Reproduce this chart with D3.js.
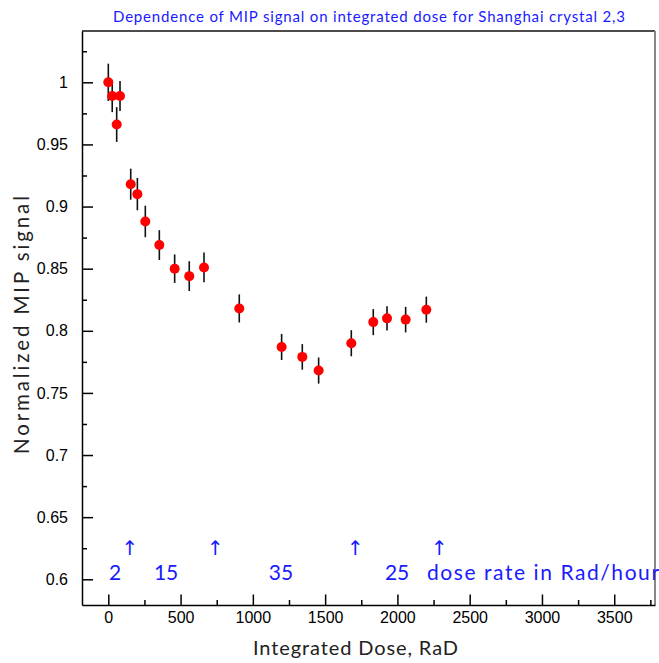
<!DOCTYPE html>
<html>
<head>
<meta charset="utf-8">
<script src="https://cdn.jsdelivr.net/npm/d3@7"></script>
<style>
  html, body { margin: 0; padding: 0; background: #fff; }
  svg { display: block; }
</style>
</head>
<body>
<svg id="chart" width="659" height="663"></svg>
<script>
// ---- data ----
const dose   = [0, 27, 81, 58, 155, 201, 256, 353, 459, 560, 662, 906, 1199, 1342, 1455, 1681, 1833, 1928, 2057, 2200];
const signal = [1.000, 0.989, 0.989, 0.966, 0.918, 0.910, 0.888, 0.869, 0.850, 0.844, 0.851, 0.818, 0.787, 0.779, 0.768, 0.790, 0.807, 0.810, 0.809, 0.817];
const errors = [0.015, 0.013, 0.012, 0.014, 0.0125, 0.013, 0.0127, 0.012, 0.0115, 0.012, 0.012, 0.0113, 0.0105, 0.0103, 0.0105, 0.0105, 0.0105, 0.0098, 0.0103, 0.0105];

const xMajorTicks = [0, 500, 1000, 1500, 2000, 2500, 3000, 3500];
const xMinorTicks = [250, 750, 1250, 1750, 2250, 2750, 3250, 3750];
const yMajorTicks = [0.6, 0.65, 0.7, 0.75, 0.8, 0.85, 0.9, 0.95, 1.0];
const yMinorTicks = [0.625, 0.675, 0.725, 0.775, 0.825, 0.875, 0.925, 0.975, 1.025];

const arrowDose  = [150, 740, 1710, 2290];
const rateLabels = ["2", "15", "35", "25"];
const rateDose   = [47, 400, 1195, 1998];
const rateNote   = "dose rate in Rad/hour";
const rateNoteDose = 2205;

const titleText = "Dependence of MIP signal on integrated dose for Shanghai crystal 2,3";
const xTitle = "Integrated Dose, RaD";
const yTitle = "Normalized MIP signal";

// ---- layout ----
const svg = d3.select("#chart");
const L = 82, R = 655, T = 31, B = 605;
const x = d3.scaleLinear().domain([-182, 3782]).range([L, R]);
const y = d3.scaleLinear().domain([0.5793, 1.0413]).range([B, T]);

const blue = "#1a1aff";
const labelFont = "'Liberation Sans', Arial, sans-serif";
const textFont = "Lato, 'Open Sans', sans-serif";

// frame
svg.append("line").attr("x1", L).attr("x2", R).attr("y1", T).attr("y2", T)
  .attr("stroke", "#111").attr("stroke-width", 1.5);
svg.append("line").attr("x1", R).attr("x2", R).attr("y1", T).attr("y2", B)
  .attr("stroke", "#888").attr("stroke-width", 2);

// axes
function styleAxis(g) {
  g.select(".domain").attr("stroke", "#000").attr("stroke-width", 1.5);
  g.selectAll(".tick line").attr("stroke", "#000").attr("stroke-width", 1.5);
  g.selectAll(".tick text").attr("fill", "#000").attr("font-family", labelFont).attr("font-size", 16);
}
const xg = svg.append("g").attr("transform", `translate(0,${B})`)
  .call(d3.axisBottom(x).tickValues(xMajorTicks).tickSize(-10.5).tickPadding(7).tickFormat(d3.format("d")).tickSizeOuter(0));
styleAxis(xg);
const xgm = svg.append("g").attr("transform", `translate(0,${B})`)
  .call(d3.axisBottom(x).tickValues(xMinorTicks).tickSize(-5).tickFormat("").tickSizeOuter(0));
styleAxis(xgm); xgm.select(".domain").remove();

const yg = svg.append("g").attr("transform", `translate(${L},0)`)
  .call(d3.axisLeft(y).tickValues(yMajorTicks).tickSize(-11).tickPadding(14)
    .tickFormat(d => d3.format("")(+d.toFixed(2))).tickSizeOuter(0));
styleAxis(yg);
const ygm = svg.append("g").attr("transform", `translate(${L},0)`)
  .call(d3.axisLeft(y).tickValues(yMinorTicks).tickSize(-5).tickFormat("").tickSizeOuter(0));
styleAxis(ygm); ygm.select(".domain").remove();

// titles
svg.append("text").attr("x", 369).attr("y", 22).attr("text-anchor", "middle")
  .attr("font-family", textFont).attr("font-size", 15).attr("fill", blue)
  .attr("textLength", 512).attr("lengthAdjust", "spacing").text(titleText);
svg.append("text").attr("x", 355.5).attr("y", 655).attr("text-anchor", "middle")
  .attr("font-family", textFont).attr("font-size", 20).attr("fill", "#222")
  .attr("textLength", 205).attr("lengthAdjust", "spacing").text(xTitle);
svg.append("text").attr("transform", "translate(29,325) rotate(-90)").attr("text-anchor", "middle")
  .attr("font-family", textFont).attr("font-size", 20.5).attr("fill", "#222")
  .attr("textLength", 258).attr("lengthAdjust", "spacing").text(yTitle);

// error bars
const pts = dose.map((d, i) => ({d, v: signal[i], e: errors[i]}));
svg.append("g").selectAll("line").data(pts).join("line")
  .attr("x1", p => x(p.d)).attr("x2", p => x(p.d))
  .attr("y1", p => y(p.v - p.e)).attr("y2", p => y(p.v + p.e))
  .attr("stroke", "#111").attr("stroke-width", 1.6);
// markers
svg.append("g").selectAll("circle").data(pts).join("circle")
  .attr("cx", p => x(p.d)).attr("cy", p => y(p.v)).attr("r", 5)
  .attr("fill", "#ff0000");

// annotations
svg.append("g").selectAll("text").data(arrowDose).join("text")
  .attr("x", d => x(d)).attr("y", y(0.6192)).attr("text-anchor", "middle")
  .attr("font-family", "'DejaVu Sans', sans-serif").attr("font-size", 20).attr("fill", blue).text("\u2191");
svg.append("g").selectAll("text").data(rateLabels).join("text")
  .attr("x", (d, i) => x(rateDose[i])).attr("y", y(0.5995)).attr("text-anchor", "middle")
  .attr("font-family", textFont).attr("font-size", 21).attr("fill", blue).text(d => d);
svg.append("text").attr("x", x(rateNoteDose)).attr("y", y(0.5995))
  .attr("font-family", textFont).attr("font-size", 21).attr("fill", blue)
  .attr("textLength", 232).attr("lengthAdjust", "spacing").text(rateNote);
</script>
</body>
</html>
